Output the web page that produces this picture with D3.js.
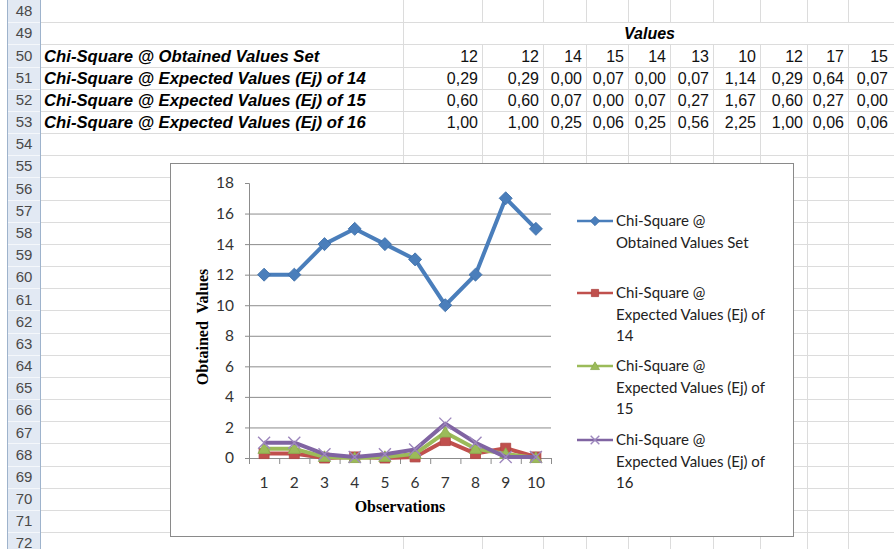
<!DOCTYPE html>
<html>

<head>
    <script src="https://d3js.org/d3.v7.min.js"></script>
    <style>
        body { margin: 0; background: #fff; }
        svg { display: block; }
    </style>
    <script>
        const W = 894
        const H = 549

        const observations = [1, 2, 3, 4, 5, 6, 7, 8, 9, 10]
        const obtained = [12, 12, 14, 15, 14, 13, 10, 12, 17, 15]
        const expected14 = [0.29, 0.29, 0.00, 0.07, 0.00, 0.07, 1.14, 0.29, 0.64, 0.07]
        const expected15 = [0.60, 0.60, 0.07, 0.00, 0.07, 0.27, 1.67, 0.60, 0.27, 0.00]
        const expected16 = [1.00, 1.00, 0.25, 0.06, 0.25, 0.56, 2.25, 1.00, 0.06, 0.06]
        const rowLabels = [
            "Chi-Square @ Obtained Values Set",
            "Chi-Square @ Expected Values (Ej) of 14",
            "Chi-Square @ Expected Values (Ej) of 15",
            "Chi-Square @ Expected Values (Ej) of 16"
        ]
        const legendLines = [
            ["Chi-Square @", "Obtained Values Set"],
            ["Chi-Square @", "Expected Values (Ej) of", "14"],
            ["Chi-Square @", "Expected Values (Ej) of", "15"],
            ["Chi-Square @", "Expected Values (Ej) of", "16"]
        ]
        const yTicks = [0, 2, 4, 6, 8, 10, 12, 14, 16, 18]

        // sheet layout
        const rowH = 22.17
        const firstRow = 48
        const textDrop = 17.3   // baseline below row top
        const colEdges = [403, 482, 543, 586, 628, 670, 713, 760, 807, 848, 892]
        const cellFont = "'Liberation Sans', Arial, sans-serif"
        const chartFont = "Lato, 'Open Sans', sans-serif"
        const serif = "'Liberation Serif', 'Times New Roman', serif"

        const rowTop = r => (r - firstRow) * rowH

        function draw() {
            const svg = d3.select("body").append("svg")
                .attr("width", W)
                .attr("height", H)

            // ---- spreadsheet grid ----
            svg.append("rect").attr("x", 7).attr("y", 0).attr("width", 33).attr("height", H)
                .attr("fill", "#e2e9f3")
            svg.append("line").attr("x1", 7.5).attr("x2", 7.5).attr("y1", 0).attr("y2", H)
                .attr("stroke", "#9eb3cc")
            svg.append("line").attr("x1", 40.5).attr("x2", 40.5).attr("y1", 0).attr("y2", H)
                .attr("stroke", "#9eb3cc")

            const rows = d3.range(firstRow, 73)
            svg.selectAll(".hline").data(rows.slice(1))
                .join("line")
                .attr("x1", 41).attr("x2", W)
                .attr("y1", r => Math.round(rowTop(r)) + 0.5)
                .attr("y2", r => Math.round(rowTop(r)) + 0.5)
                .attr("stroke", "#dcdcdc")
            svg.selectAll(".hdrline").data(rows.slice(1))
                .join("line")
                .attr("x1", 8).attr("x2", 40)
                .attr("y1", r => Math.round(rowTop(r)) + 0.5)
                .attr("y2", r => Math.round(rowTop(r)) + 0.5)
                .attr("stroke", "#f4f7fb")

            // vertical lines, broken across merged "Values" row
            colEdges.slice(0, -1).forEach((cx, i) => {
                if (i === 0) {
                    svg.append("line").attr("x1", cx + 0.5).attr("x2", cx + 0.5)
                        .attr("y1", 0).attr("y2", H).attr("stroke", "#dcdcdc")
                } else {
                    svg.append("line").attr("x1", cx + 0.5).attr("x2", cx + 0.5)
                        .attr("y1", 0).attr("y2", rowTop(49)).attr("stroke", "#dcdcdc")
                    svg.append("line").attr("x1", cx + 0.5).attr("x2", cx + 0.5)
                        .attr("y1", rowTop(50)).attr("y2", H).attr("stroke", "#dcdcdc")
                }
            })

            svg.selectAll(".rownum").data(rows)
                .join("text")
                .attr("x", 24)
                .attr("y", r => rowTop(r) + 16.3)
                .attr("text-anchor", "middle")
                .attr("font-family", cellFont)
                .attr("font-size", 15)
                .attr("fill", "#4a4a4a")
                .text(r => r)

            // "Values" header (merged)
            svg.append("text")
                .attr("x", (colEdges[0] + W + 2) / 2)
                .attr("y", rowTop(49) + textDrop)
                .attr("text-anchor", "middle")
                .attr("font-family", cellFont).attr("font-size", 16)
                .attr("font-weight", "bold").attr("font-style", "italic")
                .text("Values")

            const tableRows = [obtained, expected14, expected15, expected16]
            const f2 = d3.format(".2f")
            tableRows.forEach((vals, ri) => {
                const y = rowTop(50 + ri) + textDrop
                svg.append("text")
                    .attr("x", 44).attr("y", y)
                    .attr("font-family", cellFont).attr("font-size", 16.7)
                    .attr("font-weight", "bold").attr("font-style", "italic")
                    .text(rowLabels[ri])
                svg.selectAll(".cell" + ri).data(vals)
                    .join("text")
                    .attr("x", (d, i) => colEdges[i + 1] - 4)
                    .attr("y", y)
                    .attr("text-anchor", "end")
                    .attr("font-family", cellFont).attr("font-size", 16)
                    .attr("fill", "#111")
                    .text(d => ri === 0 ? d : f2(d).replace(".", ","))
            })

            // ---- embedded chart ----
            svg.append("rect")
                .attr("x", 170.5).attr("y", 163.5).attr("width", 623).attr("height", 373)
                .attr("fill", "#fff").attr("stroke", "#8a8a8a")

            const x = d3.scaleBand().domain(observations).range([249, 551])
            const y = d3.scaleLinear().domain([0, 18]).range([458, 183])
            const xEdge = d3.scaleLinear().domain([0, observations.length]).range([249, 551])

            // gridlines
            svg.append("g")
                .attr("transform", "translate(249,0)")
                .call(d3.axisLeft(y).tickValues(yTicks.filter(t => t > 0 && t < 18))
                    .tickSize(-302).tickFormat(""))
                .call(g => g.select(".domain").remove())
                .call(g => g.selectAll("line").attr("stroke", "#8c8c8c"))

            // y axis
            svg.append("g")
                .attr("transform", "translate(249,0)")
                .call(d3.axisLeft(y).tickValues(yTicks).tickSize(4).tickPadding(11))
                .call(g => g.select(".domain").attr("stroke", "#8c8c8c"))
                .call(g => g.selectAll("line").attr("stroke", "#8c8c8c"))
                .call(g => g.selectAll("text")
                    .attr("font-family", chartFont).attr("font-size", 15.5).attr("fill", "#333"))

            // x axis: tick marks at category edges, labels at centres
            svg.append("g")
                .attr("transform", "translate(0,458)")
                .call(d3.axisBottom(xEdge).ticks(observations.length).tickSize(6).tickFormat(""))
                .call(g => g.select(".domain").attr("stroke", "#8c8c8c"))
                .call(g => g.selectAll("line").attr("stroke", "#8c8c8c"))
            svg.append("g")
                .attr("transform", "translate(0,458)")
                .call(d3.axisBottom(x).tickSize(0).tickPadding(19))
                .call(g => g.select(".domain").remove())
                .call(g => g.selectAll("text")
                    .attr("font-family", chartFont).attr("font-size", 15.5).attr("fill", "#333"))

            // axis titles
            svg.append("text")
                .attr("x", 400).attr("y", 512)
                .attr("text-anchor", "middle")
                .attr("font-family", serif).attr("font-size", 16).attr("font-weight", "bold")
                .text("Observations")
            svg.append("text")
                .attr("transform", "translate(208,327) rotate(-90)")
                .attr("text-anchor", "middle")
                .attr("font-family", serif).attr("font-size", 16).attr("font-weight", "bold")
                .style("white-space", "pre")
                .text("Obtained  Values")

            const square = d3.symbol().type(d3.symbolSquare)
            const triangle = d3.symbol().type(d3.symbolTriangle)
            const cross = s => `M${-s},${-s}L${s},${s}M${-s},${s}L${s},${-s}`

            const series = [
                { values: obtained, color: "#4a7ebb", marker: "diamond" },
                { values: expected14, color: "#c0504d", marker: "square" },
                { values: expected15, color: "#9bbb59", marker: "triangle" },
                { values: expected16, color: "#8064a2", marker: "x" }
            ]

            function addMarker(g, kind, color, px, py, scale) {
                if (kind === "diamond") {
                    g.append("path").attr("d", square.size(85 * scale * scale)())
                        .attr("transform", `translate(${px},${py}) rotate(45)`)
                        .attr("fill", color).attr("stroke", "#3f6fa8").attr("stroke-width", 0.8)
                } else if (kind === "square") {
                    g.append("path").attr("d", square.size(100 * scale * scale)())
                        .attr("transform", `translate(${px},${py})`)
                        .attr("fill", color).attr("stroke", "#ad4542").attr("stroke-width", 0.8)
                } else if (kind === "triangle") {
                    g.append("path").attr("d", triangle.size(66 * scale * scale)())
                        .attr("transform", `translate(${px},${py + 1})`)
                        .attr("fill", color).attr("stroke", "#8cab4f").attr("stroke-width", 0.8)
                } else {
                    g.append("path").attr("d", cross(6 * scale))
                        .attr("transform", `translate(${px},${py})`)
                        .attr("fill", "none").attr("stroke", "#9d87bd").attr("stroke-width", 1.4)
                }
            }

            const line = d3.line()
                .x((d, i) => x(observations[i]) + x.bandwidth() / 2)
                .y(d => y(d))

            series.forEach(s => {
                const g = svg.append("g")
                g.append("path")
                    .attr("d", line(s.values))
                    .attr("fill", "none")
                    .attr("stroke", s.color)
                    .attr("stroke-width", 4)
                    .attr("stroke-linejoin", "round")
                s.values.forEach((v, i) => {
                    addMarker(g, s.marker, s.color, x(observations[i]) + x.bandwidth() / 2, y(v), 1)
                })
            })

            // legend
            const legendTops = [221, 293, 366, 440]
            series.forEach((s, si) => {
                const g = svg.append("g")
                const ly = legendTops[si]
                g.append("line")
                    .attr("x1", 577).attr("x2", 613).attr("y1", ly).attr("y2", ly)
                    .attr("stroke", s.color).attr("stroke-width", 2.7)
                addMarker(g, s.marker, s.color, 595, ly, 0.72)
                g.selectAll("text").data(legendLines[si])
                    .join("text")
                    .attr("x", 616)
                    .attr("y", (d, i) => ly + 5 + i * 21.5)
                    .attr("font-family", chartFont).attr("font-size", 15)
                    .attr("fill", "#222")
                    .text(d => d)
            })
        }
    </script>
</head>

<body onload="draw()">
</body>

</html>
